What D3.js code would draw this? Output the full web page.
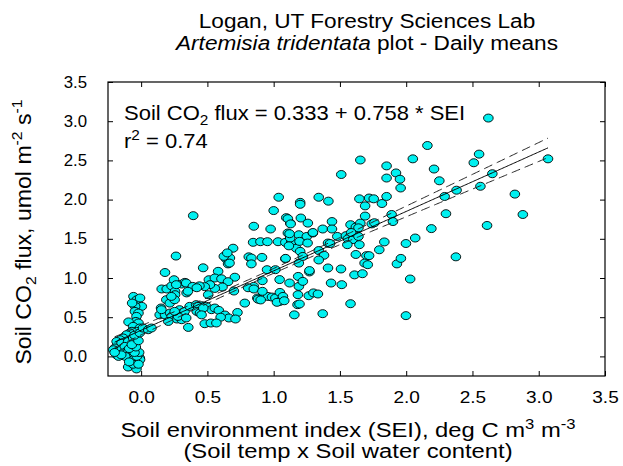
<!DOCTYPE html>
<html><head><meta charset="utf-8">
<script src="https://cdn.jsdelivr.net/npm/d3@7"></script>
<style>
body{margin:0;background:#fff}
text{font-family:"Liberation Sans",Arial,sans-serif;fill:#000}
</style>
</head><body>
<svg id="chart" width="623" height="466"></svg>
<script>
// ---- data (SEI, soil CO2 flux) ----
const observations = [
// cluster near SEI 0
[-0.058,0.765],[-0.032,0.723],[-0.008,0.745],[0.005,0.638],[-0.045,0.638],[-0.068,0.68],[-0.047,0.574],[-0.02,0.553],
[-0.035,0.51],[-0.04,0.446],[-0.02,0.426],[-0.095,0.44],[-0.06,0.383],[-0.01,0.362],[-0.035,0.32],[-0.07,0.32],
[-0.085,0.30],[-0.11,0.277],[-0.135,0.235],[-0.16,0.213],[-0.185,0.19],[-0.148,0.17],[-0.098,0.19],[-0.06,0.235],
[-0.198,0.107],[-0.21,0.085],[-0.173,0.064],[-0.185,0.02],[-0.148,0.085],[-0.123,0.128],[-0.11,0.064],[-0.135,0.043],
[-0.085,0.02],[-0.06,0.0],[-0.035,0.02],[-0.073,-0.04],[-0.035,-0.04],[-0.01,-0.02],[-0.047,-0.085],[-0.098,-0.135],
[-0.035,-0.16],[-0.02,-0.064],[-0.17,0.0],[-0.108,0.043],[-0.083,-0.02],[-0.058,-0.04],[-0.008,-0.04],[-0.032,0.0],
[-0.015,0.05],[-0.05,0.05],[-0.09,0.1],[-0.04,0.12],[-0.07,0.15],[-0.02,0.2],[-0.05,0.27],[-0.01,0.3],
[-0.12,0.0],[-0.15,0.02],[-0.2,0.05],[-0.06,-0.1],[-0.02,-0.1],[-0.09,-0.07],
[0.014,0.362],[0.053,0.34],[0.078,0.362],[0.14,0.53],
// SEI 0.15 - 0.42
[0.155,0.86],[0.193,0.86],[0.23,0.9],[0.248,0.978],[0.256,0.83],[0.306,0.923],[0.33,0.944],[0.343,0.81],
[0.256,0.787],[0.265,0.915],[0.34,0.936],[0.39,0.893],[0.353,0.83],[0.19,0.723],[0.216,0.68],[0.253,0.723],
[0.228,0.765],[0.15,0.617],[0.18,0.53],[0.218,0.553],[0.23,0.51],[0.27,0.477],[0.306,0.468],[0.205,0.446],
[0.356,0.37],[0.29,0.596],[0.328,0.574],[0.366,0.638],[0.278,0.51],[0.34,0.49],[0.415,0.66],[0.253,0.574],
[0.153,0.596],[0.18,1.07],[0.263,1.28],
// SEI 0.4 - 0.75
[0.393,1.795],[0.468,1.13],[0.581,1.085],[0.707,1.01],[0.511,0.978],[0.556,1.0],[0.606,0.99],[0.656,0.953],
[0.614,0.885],[0.556,0.867],[0.519,0.915],[0.48,0.89],[0.44,0.90],[0.42,0.876],[0.70,0.834],[0.506,0.787],
[0.456,0.647],[0.494,0.638],[0.531,0.596],[0.556,0.617],[0.586,0.587],[0.632,0.528],[0.662,0.49],[0.60,0.50],
[0.727,0.56],[0.712,0.477],[0.43,0.638],[0.42,0.574],[0.444,0.553],[0.469,0.617],[0.456,0.53],[0.48,0.417],
[0.526,0.426],[0.568,0.426],[0.64,1.246],[0.67,1.255],[0.656,1.18],[0.694,1.38],[0.624,1.276],[0.65,1.32],
[0.667,1.19],
// SEI 0.75 - 1.2
[0.85,1.66],[0.977,1.625],[1.0,1.86],[1.038,2.03],[0.845,1.455],[0.9,1.463],[0.953,1.463],[1.033,1.463],
[1.088,1.455],[1.133,1.455],[0.812,1.27],[0.832,1.255],[0.912,1.263],[1.088,1.246],[0.832,1.18],[0.95,1.106],
[1.013,1.106],[0.915,0.966],[0.85,0.893],[0.877,0.745],[0.957,0.765],[0.987,0.757],[1.013,0.745],[1.045,0.70],
[1.12,0.936],[1.19,0.893],[1.18,0.66],[1.156,0.53],[1.047,0.816],[0.782,0.68],[0.807,0.876],[0.85,0.86],
[0.915,0.83],[0.882,0.73],[0.902,0.72],[1.045,0.98],[1.07,0.765],[1.025,0.69],[1.08,0.71],[1.095,1.77],
[1.125,1.70],[1.107,1.757],[1.107,1.574],[1.125,1.51],[1.17,1.38],[1.19,1.19],[1.185,1.02],[1.115,1.41],
[1.2,1.965],[1.2,1.94],
// SEI 1.2 - 1.8
[1.205,1.765],[1.258,1.70],[1.19,1.552],[1.25,1.53],[1.195,1.467],[1.256,1.446],[1.296,1.574],[1.2,1.34],
[1.22,1.275],[1.27,1.077],[1.27,1.095],[1.22,0.957],[1.183,0.787],[1.265,0.774],[1.3,0.81],[1.334,0.796],
[1.195,0.668],[1.37,0.545],[1.41,1.128],[1.433,0.936],[1.514,0.915],[1.508,1.115],[1.58,0.672],[1.34,2.03],
[1.413,1.98],[1.51,2.32],[1.654,2.505],[1.44,1.72],[1.37,1.625],[1.44,1.625],[1.48,1.53],[1.41,1.446],
[1.426,1.44],[1.34,1.35],[1.38,1.29],[1.34,1.23],[1.296,1.58],[1.545,1.54],[1.56,1.50],[1.60,1.49],
[1.605,1.60],[1.556,1.425],[1.647,1.425],[1.62,1.30],[1.70,1.285],[1.72,1.285],[1.686,1.19],[1.71,1.17],
[1.61,1.04],[1.67,1.055],[1.58,1.68],[1.62,1.65],[1.654,1.70],[1.74,1.69],[1.69,1.79],[1.647,2.01],
[1.69,1.92],[1.72,2.02],[1.755,2.01],[1.817,1.95],[1.852,2.04],[1.64,1.64],[1.585,1.58],[1.64,1.53],
[1.12,1.565],[1.128,1.69],[1.09,1.25],
// SEI > 1.75
[1.852,2.43],[1.852,2.275],[1.923,2.34],[1.953,2.26],[1.958,2.148],[2.05,2.52],[2.16,2.69],[2.21,2.39],
[2.25,2.24],[2.29,2.04],[2.3,1.82],[2.38,2.12],[2.19,1.63],[2.375,1.27],[2.51,2.47],[2.55,2.58],
[2.56,2.17],[2.61,1.67],[2.65,2.33],[2.62,3.04],[2.82,2.07],[2.88,1.81],[3.07,2.52],[1.89,1.81],
[1.9,1.72],[1.797,1.36],[1.835,1.46],[1.93,1.18],[1.96,1.25],[1.998,1.44],[2.068,1.51],[2.03,0.987],
[1.998,0.52],[1.76,1.705]
];

const xTickValues = [0.0, 0.5, 1.0, 1.5, 2.0, 2.5, 3.0, 3.5];
const yTickValues = [0.0, 0.5, 1.0, 1.5, 2.0, 2.5, 3.0, 3.5];

// regression: flux = 0.333 + 0.758 * SEI, 95% confidence band parameters
const fitIntercept = 0.333;
const fitSlope = 0.758;
const fitRange = [-0.2, 3.07];
const ciCenter = 0.9, ciBase = 0.0009, ciSpread = 0.00309;

// ---- drawing ----
const svg = d3.select("#chart");
const pL = 108, pR = 605, pT = 82, pB = 376;

const x = d3.scaleLinear().domain([-0.25, 3.5]).range([pL, pR]);
const y = d3.scaleLinear().domain([-0.25, 3.5]).range([pB, pT]);
const fmt = d3.format(".1f");

// axes with inward ticks on all sides
const gB = svg.append("g").attr("transform", `translate(0,${pB})`)
  .call(d3.axisBottom(x).tickValues(xTickValues).tickFormat(fmt).tickSizeInner(-5).tickSizeOuter(0).tickPadding(15));
gB.selectAll("text").style("font-size", "17px").attr("transform", "scale(1.12,1)");
const gT = svg.append("g").attr("transform", `translate(0,${pT})`)
  .call(d3.axisTop(x).tickValues(xTickValues).tickFormat("").tickSizeInner(-5).tickSizeOuter(0));
const gL = svg.append("g").attr("transform", `translate(${pL},0)`)
  .call(d3.axisLeft(y).tickValues(yTickValues).tickFormat(fmt).tickSizeInner(-5).tickSizeOuter(0).tickPadding(20));
gL.selectAll("text").style("font-size", "16px").attr("transform", "scale(1.05,1)");
const gR = svg.append("g").attr("transform", `translate(${pR},0)`)
  .call(d3.axisRight(y).tickValues(yTickValues).tickFormat("").tickSizeInner(-5).tickSizeOuter(0));
[gB, gT, gL, gR].forEach(g => {
  g.select(".domain").remove();
  g.selectAll("line").attr("stroke", "#000").attr("stroke-width", 1);
  g.selectAll("text").attr("fill", "#000").style("font-family", '"Liberation Sans",Arial,sans-serif');
});

svg.append("rect").attr("x", pL).attr("y", pT).attr("width", pR - pL).attr("height", pB - pT)
  .attr("fill", "none").attr("stroke", "#000").attr("stroke-width", 1.2);

// points
svg.append("g").selectAll("ellipse").data(observations).join("ellipse")
  .attr("cx", d => x(d[0])).attr("cy", d => y(d[1]))
  .attr("rx", 4.8).attr("ry", 4.0)
  .attr("fill", "#00f0f0").attr("stroke", "#000").attr("stroke-width", 0.9);

// regression line and confidence band
const xs = d3.range(fitRange[0], fitRange[1] + 1e-9, 0.01);
const fit = v => fitIntercept + fitSlope * v;
const half = v => Math.sqrt(ciBase + ciSpread * (v - ciCenter) ** 2);
const line = d3.line().x(d => x(d[0])).y(d => y(d[1]));
svg.append("path").attr("d", line(xs.map(v => [v, fit(v)])))
  .attr("fill", "none").attr("stroke", "#000").attr("stroke-width", 1);
[1, -1].forEach(s => {
  svg.append("path").attr("d", line(xs.map(v => [v, fit(v) + s * half(v)])))
    .attr("fill", "none").attr("stroke", "#222").attr("stroke-width", 1).attr("stroke-dasharray", "9,5");
});

// helper for text with horizontal stretch
function label(px, py, anchor, size, sx, rot) {
  return svg.append("text")
    .attr("transform", `translate(${px},${py})` + (rot ? ` rotate(${rot})` : "") + ` scale(${sx},1)`)
    .attr("text-anchor", anchor).style("font-size", size + "px");
}

// title
label(367, 28, "middle", 19.5, 1.16).text("Logan, UT Forestry Sciences Lab");
const t2 = label(367, 50, "middle", 19.5, 1.16);
t2.append("tspan").style("font-style", "italic").text("Artemisia tridentata");
t2.append("tspan").text(" plot - Daily means");

// annotation
const a1 = label(124, 120, "start", 20, 1.1);
a1.append("tspan").text("Soil CO");
a1.append("tspan").attr("dy", 5).style("font-size", "14px").text("2");
a1.append("tspan").attr("dy", -5).text(" flux = 0.333 + 0.758 * SEI");
const a2 = label(124, 148, "start", 20, 1.1);
a2.append("tspan").text("r");
a2.append("tspan").attr("dy", -8).style("font-size", "14px").text("2");
a2.append("tspan").attr("dy", 8).text(" = 0.74");

// x axis title
const xl = label(348, 437, "middle", 20, 1.19);
xl.append("tspan").text("Soil environment index (SEI), deg C m");
xl.append("tspan").attr("dy", -8).style("font-size", "14px").text("3");
xl.append("tspan").attr("dy", 8).text(" m");
xl.append("tspan").attr("dy", -8).style("font-size", "14px").text("-3");
label(348, 458, "middle", 20, 1.19).text("(Soil temp x Soil water content)");

// y axis title
const yl = label(31, 232, "middle", 22, 1.05, -90);
yl.append("tspan").text("Soil CO");
yl.append("tspan").attr("dy", 5).style("font-size", "15px").text("2");
yl.append("tspan").attr("dy", -5).text(" flux, umol m");
yl.append("tspan").attr("dy", -9).style("font-size", "15px").text("-2");
yl.append("tspan").attr("dy", 9).text(" s");
yl.append("tspan").attr("dy", -9).style("font-size", "15px").text("-1");
</script>
</body></html>
